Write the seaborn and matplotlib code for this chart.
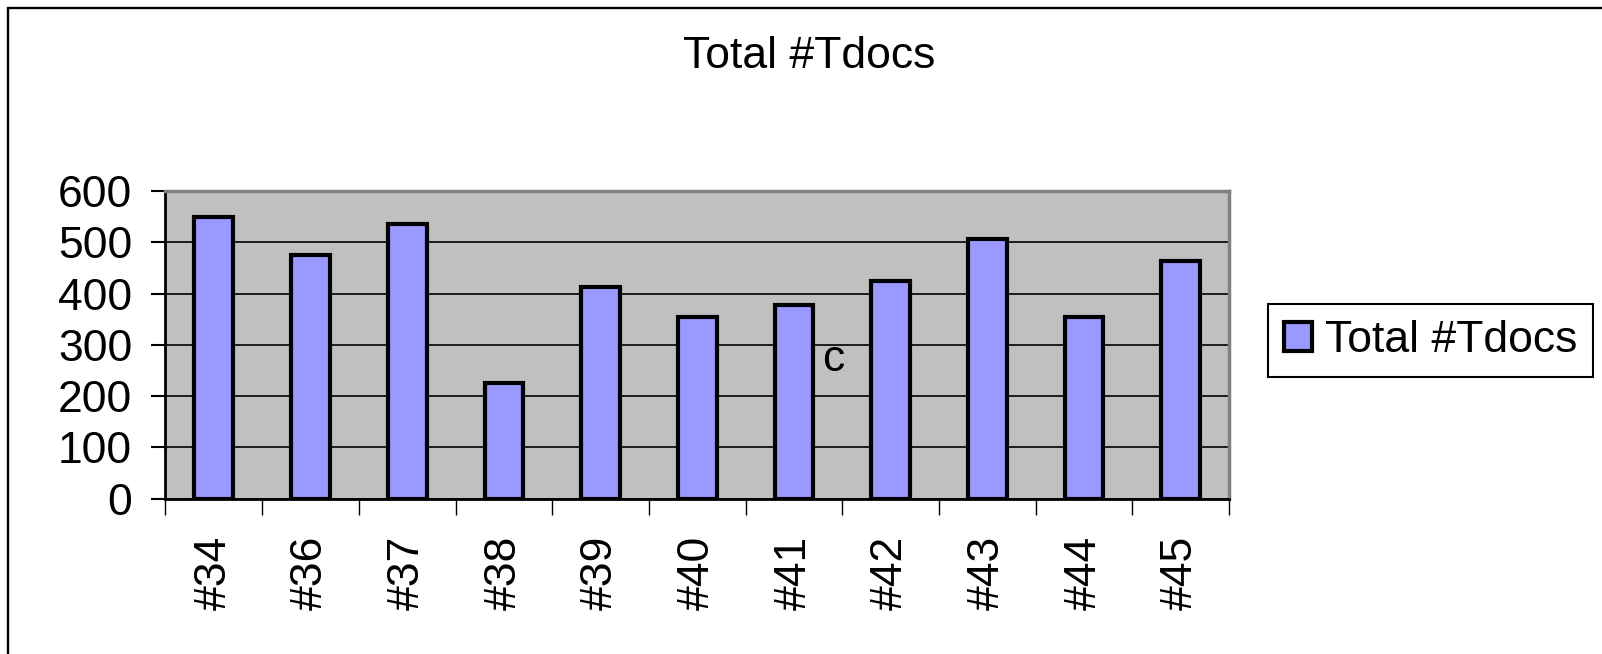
import numpy as np
import pandas as pd
import matplotlib
matplotlib.use("Agg")
import matplotlib.pyplot as plt
from matplotlib.patches import Rectangle
import seaborn as sns

# data
meetings = ['#34', '#36', '#37', '#38', '#39', '#40', '#41', '#42', '#43', '#44', '#45']
tdocs = [550, 476, 535, 225, 413, 355, 378, 425, 507, 355, 464]
series_name = 'Total #Tdocs'

df = pd.DataFrame({'Meeting': meetings, 'Tdocs': tdocs, 'Series': series_name})

sns.set_style('white')
plt.rcParams['font.family'] = ['Liberation Sans', 'DejaVu Sans']
plt.rcParams['text.color'] = 'black'
plt.rcParams['xtick.color'] = 'black'
plt.rcParams['ytick.color'] = 'black'
plt.rcParams['axes.labelcolor'] = 'black'

fig = plt.figure(figsize=(16.02, 6.54), dpi=100)
ax = fig.add_axes([0.1033, 0.2376, 0.6639, 0.4703])

sns.barplot(data=df, x='Meeting', y='Tdocs', hue='Series', palette=['#9999FF'],
            saturation=1, width=0.4, edgecolor='black', linewidth=3.0, ax=ax, legend=True)

ax.set_facecolor('#C0C0C0')
ax.set_ylim(0, 600)
ax.set_xlim(-0.5, len(meetings) - 0.5)
ax.set_yticks(np.arange(0, 601, 100))
ax.yaxis.grid(True, color='black', linewidth=1.2)
ax.xaxis.grid(False)
ax.set_axisbelow(True)
ax.set_xlabel('')
ax.set_ylabel('')

# category boundary ticks like the spreadsheet chart
ax.set_xticks(np.arange(-0.5, len(meetings), 1), minor=True)
ax.tick_params(axis='x', which='major', length=0, pad=27, labelsize=32, rotation=90)
ax.tick_params(axis='x', which='minor', direction='out', length=11.5, width=1.0, color='black',
               bottom=True)
ax.tick_params(axis='y', which='major', direction='out', length=10, width=1.5, color='black',
               pad=14, labelsize=32, left=True)

for side in ['top', 'right']:
    ax.spines[side].set_visible(True)
    ax.spines[side].set_color('#808080')
    ax.spines[side].set_linewidth(2.5)
for side in ['left', 'bottom']:
    ax.spines[side].set_visible(True)
    ax.spines[side].set_color('black')
    ax.spines[side].set_linewidth(2.0)

# stray label in the original chart
ax.text(6.41, 271, 'c', fontsize=32, ha='center', va='center')

# legend to the right of the plot
ax.get_legend().remove()
handles, labels = ax.get_legend_handles_labels()
leg = fig.legend(handles[:1], labels[:1], loc='center', bbox_to_anchor=(0.893, 0.479),
                 fontsize=32, frameon=True, fancybox=False, shadow=False, framealpha=1,
                 edgecolor='black', handlelength=0.63, handleheight=0.63,
                 handletextpad=0.29, borderpad=0.36, borderaxespad=0)
leg.get_frame().set_linewidth(1.5)

fig.text(0.5054, 1 - 67.5 / 654, 'Total #Tdocs', fontsize=32, ha='center', va='baseline')

# outer chart frame (only top and left edges fall inside the image)
fig.patches.append(Rectangle((8 / 1602, -0.1), 1.2, 1 - 8 / 654 + 0.1, transform=fig.transFigure,
                             fill=False, edgecolor='black', linewidth=1.7))

fig.savefig('out.png', dpi=100)
